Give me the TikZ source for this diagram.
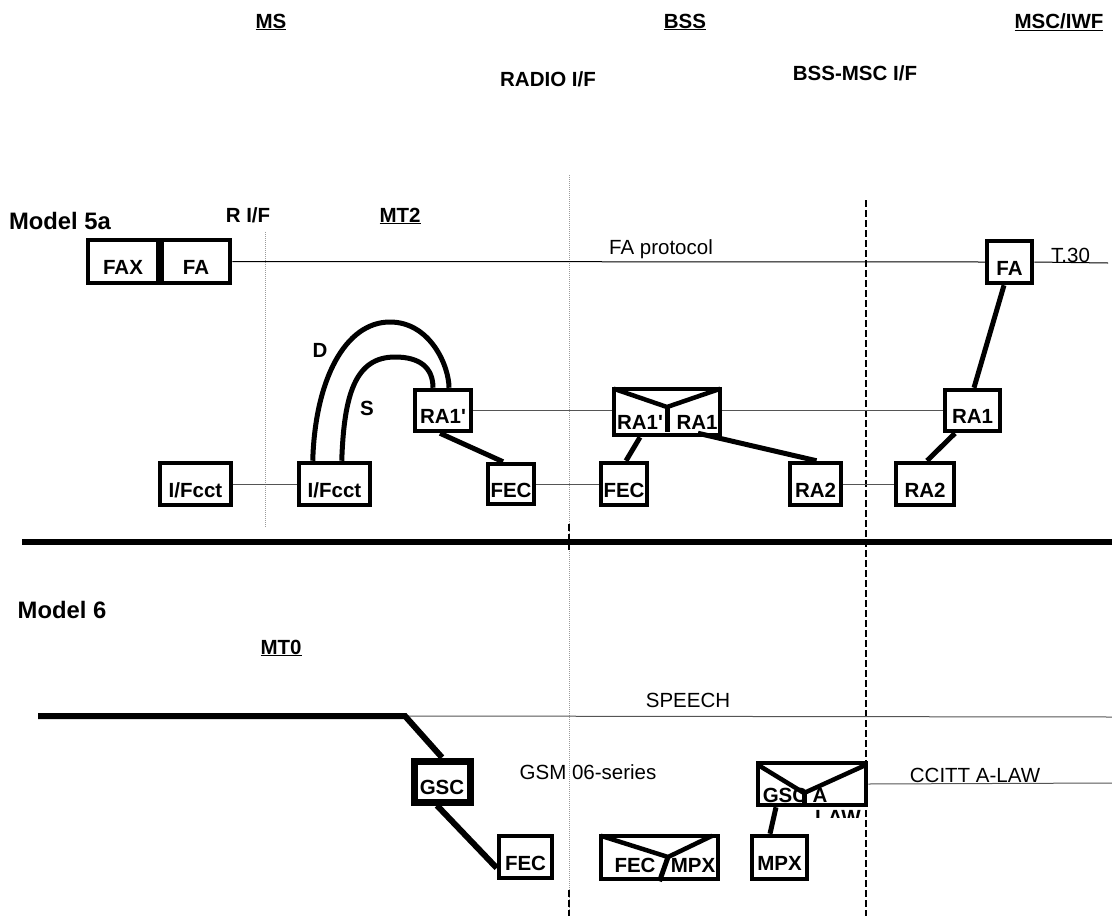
\documentclass[tikz,border=0pt]{standalone}
\usepackage{fontspec}
\setmainfont{Liberation Sans}
\usetikzlibrary{calc}
\definecolor{gsgrid}{HTML}{9A9A9A}
\definecolor{gsline}{HTML}{555555}

\begin{document}
\begin{tikzpicture}[x=1pt,y=-1pt,
    lbl/.style={font=\bfseries\fontsize{20.5}{24}\selectfont,inner sep=0pt},
    big/.style={font=\bfseries\fontsize{23.8}{28}\selectfont,inner sep=0pt},
    txt/.style={font=\fontsize{20.5}{24}\selectfont,inner sep=0pt},
    blk/.style n args={2}{draw,line width=4.5pt,fill=white,inner sep=0pt,
      minimum width=#1,minimum height=#2,
      font=\bfseries\fontsize{20.5}{24}\selectfont,text height=26.7pt,text depth=0pt},
    thin/.style={draw=gsline,line width=1pt},
    fat/.style={line width=5pt},
    grid/.style={draw=gsgrid,line width=0.8pt,dash pattern=on 1pt off 1pt},
    cut/.style={draw=black,line width=1.2pt,dash pattern=on 7pt off 3pt}]
  \useasboundingbox (0,0) rectangle (1112,916);

  % interface lines
  \draw[grid] (265,232) -- (265,528);
  \draw[grid] (569,175) -- (569,916);
  \draw[cut] (569,524) -- (569,550);
  \draw[cut] (569,890) -- (569,916);
  \draw[cut] (866,200) -- (866,916);
  \draw[line width=5.5pt] (22,542) -- (1112,542);

  % headings
  \node[lbl] (hms) at (271,22) {\underline{MS}};
  \node[lbl] (hbss) at (685,22) {\underline{BSS}};
  \node[lbl] (hmsc) at (1059,22) {\underline{MSC/IWF}};
  \node[lbl] (hradio) at (548,79) {RADIO I/F};
  \node[lbl] (hamsc) at (855,73) {BSS-MSC I/F};

  % Model 5a
  \node[big] (m5) at (60,221) {Model 5a};
  \node[lbl] (rif) at (248,215) {R I/F};
  \node[lbl] (mt2) at (400,216) {\underline{MT2}};

  \node[blk={70pt}{43pt}] (fax) at (123,261.5) {FAX};
  \node[blk={68pt}{43pt}] (fa) at (196,261.5) {FA};
  \node[blk={71pt}{42pt}] (ifc1) at (195.5,484) {I/Fcct};
  \node[blk={71pt}{42pt}] (ifc2) at (334.5,484) {I/Fcct};
  \node[blk={56pt}{41pt}] (ra1p) at (443,410.5) {RA1\textquotesingle};
  \node[blk={46pt}{40pt}] (fec1) at (511,484) {FEC};
  \node[blk={46pt}{42pt}] (fec2) at (624,484) {FEC};
  \node[blk={51pt}{42pt}] (ra2a) at (815.5,484) {RA2};
  \node[blk={45pt}{42pt}] (rfa) at (1009.5,262) {FA};
  \node[blk={55pt}{41pt}] (rra1) at (972.5,410.5) {RA1};
  \node[blk={58pt}{42pt}] (ra2b) at (925,484) {RA2};

  \node[blk={106pt}{46pt}] (mux) at (667,412) {};
  \node[lbl,anchor=base] (muxl) at (640,429) {RA1\textquotesingle};
  \node[lbl,anchor=base] (muxr) at (697,429) {RA1};
  \coordinate (muxv) at (667,407);
  \draw[line width=4.5pt] ($(mux.north west)+(2,2)$) -- (muxv) -- ($(mux.north east)+(-2,2)$);
  \draw[fat] (muxv) -- ($(mux.south)+(0,-5)$);

  \coordinate (t30end) at (1108,263);
  \draw[line width=1pt] (fa.east) -- (rfa.west);
  \draw[line width=1pt] (rfa.east) -- (t30end);
  \node[txt] (fap) at (661,249) {FA protocol};
  \node[txt,anchor=base west] (t30) at (1051,262) {T.30};

  \draw[fat] ($(fa.south west)+(20,0)$) -- ($(fa.south west)+(20,0)$ |- ifc1.north);
  \draw[fat] ($(fa.south west)+(50,0)$) -- ($(fa.south west)+(50,0)$ |- ifc1.north);
  \draw[fat] ($(ifc2.north west)+(16,0)$) .. controls (315,380) and (345,322) .. (390,322)
    .. controls (430,322) and ($(ra1p.north)+(6,-22)$) .. ($(ra1p.north)+(6,0)$);
  \draw[fat] ($(ifc2.north west)+(45,0)$) .. controls (344,395) and (355,357) .. (395,357)
    .. controls (420,357) and ($(ra1p.north)+(-10,-20)$) .. ($(ra1p.north)+(-10,0)$);
  \node[lbl] (dl) at (320,350) {D};
  \node[lbl] (sl) at (367,408) {S};

  \draw[thin] (ifc1.east) -- (ifc2.west);
  \draw[thin] (fec1.east) -- (fec2.west);
  \draw[thin] (ra2a.east) -- (ra2b.west);
  \draw[thin] (ra1p.east) -- (ra1p.east -| mux.west);
  \draw[thin] (mux.east |- rra1.west) -- (rra1.west);

  \draw[fat] ($(ra1p.south)+(-3,0)$) -- ($(fec1.north)+(-8,0)$);
  \draw[fat] ($(mux.south)+(-27,0)$) -- ($(fec2.north)+(2,0)$);
  \draw[fat] ($(mux.south)+(31,-4)$) -- ($(ra2a.north)+(1,0)$);
  \draw[fat] ($(rfa.south)+(-5.5,0)$) -- ($(rra1.north)+(1.5,0)$);
  \draw[fat] ($(rra1.south)+(-17.5,0)$) -- ($(ra2b.north)+(2,0)$);

  % Model 6
  \node[big] (m6) at (62,610) {Model 6};
  \node[lbl] (mt0) at (281,648) {\underline{MT0}};

  \node[blk={56pt}{41pt},line width=7pt] (gsc) at (442,781.5) {GSC};
  \node[blk={53pt}{42pt}] (fec6) at (525.5,857) {FEC};
  \node[blk={55pt}{43pt}] (mpx) at (779.5,857.5) {MPX};

  \node[blk={117pt}{43pt}] (fm) at (659.5,857.5) {};
  \node[lbl,anchor=base] (fml) at (635,872) {FEC};
  \node[lbl,anchor=base] (fmr) at (693,872) {MPX};
  \coordinate (fmv) at (668,857);
  \draw[line width=4.5pt] ($(fm.north west)+(2,2)$) -- (fmv) -- ($(fm.north east)+(-8,2)$);
  \draw[fat] (fmv) -- (fm.south);

  \node[blk={108pt}{42pt}] (gsca) at (812,784) {};
  \node[lbl,anchor=base] (gscal) at (785,802) {GSC};
  \node[lbl,anchor=base] (gscar) at (820,802) {A};
  \begin{scope}
    \clip (800,809) rectangle (870,817);
    \node[lbl,anchor=base] (gscaw) at (838,824) {LAW};
  \end{scope}
  \coordinate (gscav) at (804,793);
  \draw[line width=4.5pt] ($(gsca.north west)+(2,4)$) -- (gscav) -- ($(gsca.north east)+(-2,4)$);
  \draw[fat] (gscav) -- ($(gscav)+(0,10)$);

  \coordinate (m6a) at (38,716);
  \coordinate (m6b) at (405,716);
  \coordinate (spend) at (1112,717);
  \coordinate (lawend) at (1112,783);
  \draw[thin] (m6b) -- (spend);
  \draw[line width=6pt,line join=miter] (m6a) -- (m6b) -- (gsc.north);
  \draw[line width=6pt] ($(gsc.south)+(-5,0)$) -- ($(fec6.west)+(0,11)$);
  \draw[thin] ($(gsc.center)+(6,8.5)$) -- ($(gsc.center)+(6,8.5)$ -| gsca.west);
  \draw[thin] (gsca.east) -- (lawend);
  \draw[thin] ($(fec6.east)+(4,7)$) -- ($(fec6.east)+(4,7)$ -| fm.west);
  \draw[thin] ($(fm.east)+(0,6)$) -- ($(fm.east)+(0,6)$ -| mpx.west);
  \draw[fat] ($(gsca.south)+(-36,0)$) -- ($(mpx.north)+(-9.5,0)$);

  \node[txt,anchor=base] (speech) at (688,707) {SPEECH};
  \node[txt,anchor=base] (gsm) at (588,779) {GSM 06-series};
  \node[txt,anchor=base] (ccitt) at (975,782) {CCITT A-LAW};
\end{tikzpicture}
\end{document}
